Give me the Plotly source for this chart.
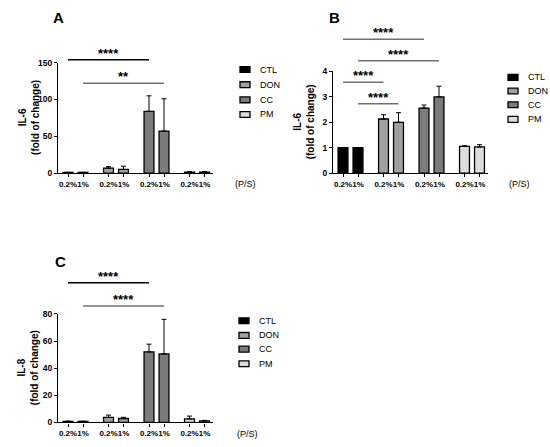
import plotly.graph_objects as go

W, H = 550, 447
FONT = "Arial, 'Liberation Sans', sans-serif"

groups = ["CTL", "DON", "CC", "PM"]
doses = ["0.2%", "1%"]
group_colors = ["#000000", "#a0a0a0", "#7b7b7b", "#dcdcdc"]

# panel A - IL-6
il6_a_mean = [[1.0, 1.0], [6.8, 5.0], [84, 57], [1.3, 1.2]]
il6_a_err = [[0, 0], [2.0, 4.5], [21, 44], [0.5, 0.8]]
il6_a_sig = [(0, 4, 154, "****"), (1, 5, 122, "**")]

# panel B - IL-6
il6_b_mean = [[1.0, 1.0], [2.13, 2.0], [2.56, 3.0], [1.05, 1.03]]
il6_b_err = [[0, 0], [0.17, 0.38], [0.12, 0.42], [0.03, 0.09]]
il6_b_sig = [(0, 4, 5.27, "****"), (1, 5, 4.42, "****"),
             (0, 2, 3.58, "****"), (1, 3, 2.73, "****")]

# panel C - IL-8
il8_c_mean = [[0.8, 0.8], [3.7, 2.9], [52, 50.5], [2.6, 1.1]]
il8_c_err = [[0.1, 0.1], [1.7, 0.9], [5.7, 25.5], [2.1, 0.4]]
il8_c_sig = [(0, 4, 103, "****"), (1, 5, 85.8, "****")]

GRAY = "#707070"

# layout of the three panels, in pixels of the 550x447 page
panels = [
    dict(s="", letter="A", mean=il6_a_mean, err=il6_a_err, sig=il6_a_sig,
         ytitle="IL-6", yticks=[0, 50, 100, 150],
         left=58, right=213, top=59, bottom=172, ytitle_x=29,
         sigcol=["#000000", GRAY], letter_xy=(58, 13), ps_xy=(233, 183),
         leg_x=240, leg_y=[66, 81.5, 97, 112]),
    dict(s="2", letter="B", mean=il6_b_mean, err=il6_b_err, sig=il6_b_sig,
         ytitle="IL-6", yticks=[0, 1, 2, 3, 4],
         left=333, right=488, top=68, bottom=172, ytitle_x=304,
         sigcol=[GRAY, GRAY, GRAY, GRAY], letter_xy=(334, 13), ps_xy=(507, 183),
         leg_x=508, leg_y=[74, 88, 102, 117]),
    dict(s="3", letter="C", mean=il8_c_mean, err=il8_c_err, sig=il8_c_sig,
         ytitle="IL-8", yticks=[0, 20, 40, 60, 80],
         left=58, right=213, top=316, bottom=427, ytitle_x=28,
         sigcol=["#000000", GRAY], letter_xy=(60, 262), ps_xy=(235, 439),
         leg_x=239, leg_y=[323, 338, 352, 367]),
]

GROUP_STEP = 2.7
XR = [-0.667, 9.667]


def bar_pos(g, d):
    return g * GROUP_STEP + d


def label(x, y, text, size, xanchor="center", **kw):
    d = dict(xref="paper", yref="paper", x=x / W, y=1 - y / H, text=text,
             showarrow=False, xanchor=xanchor, yanchor="middle",
             font=dict(family=FONT, size=size, color="black"))
    d.update(kw)
    return d


fig = go.Figure()
shapes = []
annotations = []
layout_axes = {}

for p in panels:
    s = p["s"]
    for g, name in enumerate(groups):
        fig.add_trace(go.Bar(
            x=[bar_pos(g, d) for d in range(len(doses))],
            y=p["mean"][g],
            width=0.66,
            name=name,
            showlegend=False,
            marker=dict(color=group_colors[g], line=dict(color="black", width=1.3)),
            error_y=dict(type="data", array=p["err"][g], arrayminus=[0, 0],
                         symmetric=False, color="black", thickness=1, width=2.5),
            xaxis="x" + s, yaxis="y" + s,
        ))

    ymax = p["yticks"][-1]
    tickvals = [bar_pos(g, d) for g in range(len(groups)) for d in range(len(doses))]
    ticktext = [doses[d] for g in range(len(groups)) for d in range(len(doses))]
    layout_axes["xaxis" + s] = dict(
        domain=[p["left"] / W, p["right"] / W], range=XR, anchor="y" + s,
        showline=True, linecolor="black", linewidth=1.3, showgrid=False, zeroline=False,
        ticks="outside", ticklen=3, tickcolor="black", tickwidth=1,
        tickvals=tickvals, ticktext=ticktext, tickangle=0,
        tickfont=dict(family=FONT, size=8, color="black", weight="bold"),
    )
    layout_axes["yaxis" + s] = dict(
        domain=[1 - p["bottom"] / H, 1 - p["top"] / H], range=[0, ymax], anchor="x" + s,
        showline=True, linecolor="black", linewidth=1.3, showgrid=False, zeroline=False,
        ticks="outside", ticklen=3, tickcolor="black", tickwidth=1,
        tickvals=p["yticks"],
        tickfont=dict(family=FONT, size=8.5, color="black", weight="bold"),
    )

    # y-axis title, placed close to the tick labels as in the original
    annotations.append(label(p["ytitle_x"], (p["top"] + p["bottom"]) / 2,
                             "<b>%s<br>(fold of change)</b>" % p["ytitle"], 10,
                             textangle=-90))

    # significance brackets
    for (a, b, level, stars), col in zip(p["sig"], p["sigcol"]):
        xa = (bar_pos(a // 2, a % 2) - XR[0]) / (XR[1] - XR[0])
        xb = (bar_pos(b // 2, b % 2) - XR[0]) / (XR[1] - XR[0])
        yl = level / ymax
        shapes.append(dict(type="line", xref="x%s domain" % s, yref="y%s domain" % s,
                           x0=xa, x1=xb, y0=yl, y1=yl,
                           line=dict(color=col, width=1.5)))
        annotations.append(dict(xref="x%s domain" % s, yref="y%s domain" % s,
                                x=(xa + xb) / 2, y=yl, xanchor="center", yanchor="bottom",
                                yshift=-3, text="<b>%s</b>" % stars, showarrow=False,
                                font=dict(family=FONT, size=13, color="black")))

    # panel letter and (P/S) label
    lx, ly = p["letter_xy"]
    annotations.append(label(lx, ly, "<b>%s</b>" % p["letter"], 15))
    px_, py_ = p["ps_xy"]
    annotations.append(label(px_, py_, "(P/S)", 9, xanchor="left"))

    # legend drawn per panel
    for g, name in enumerate(groups):
        cy = p["leg_y"][g]
        shapes.append(dict(type="rect", xref="paper", yref="paper",
                           x0=p["leg_x"] / W, x1=(p["leg_x"] + 10) / W,
                           y0=1 - (cy + 3) / H, y1=1 - (cy - 3) / H,
                           fillcolor=group_colors[g], line=dict(color="black", width=1.3)))
        annotations.append(label(p["leg_x"] + 18, cy, name, 9, xanchor="left"))

fig.update_layout(
    width=W, height=H,
    margin=dict(l=0, r=0, t=0, b=0),
    paper_bgcolor="white", plot_bgcolor="white",
    barmode="overlay",
    shapes=shapes, annotations=annotations,
    font=dict(family=FONT, color="black"),
    **layout_axes,
)

# the page's default body margin would push the figure 8px off the window
fig.write_html("out.html", config={"displayModeBar": False},
               post_script="document.body.style.margin = '0';")
